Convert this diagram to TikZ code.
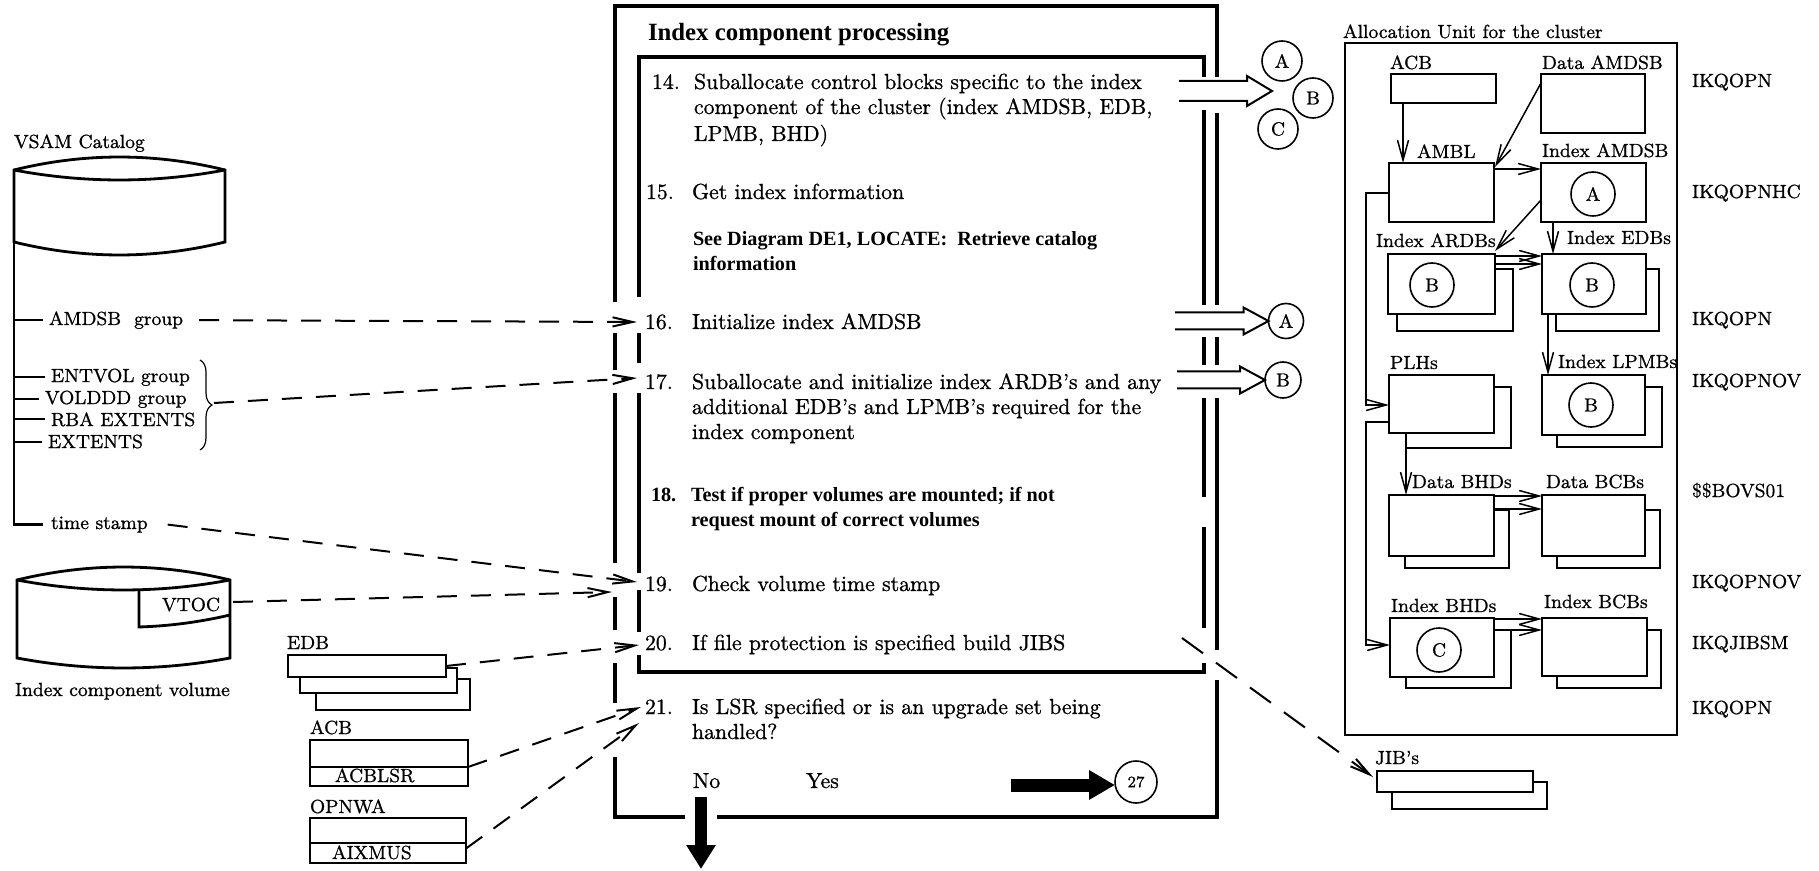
\documentclass[tikz,border=0pt]{standalone}
\usepackage{fontspec}
\newfontfamily\tmsfont{Liberation Serif}
\newfontfamily\heavyfont{Latin Modern Roman}[FakeBold=0.9, Ligatures=TeX]
\usetikzlibrary{arrows.meta,calc,fit,decorations.pathreplacing}

% shadow of a stacked block: #1 node, #2 left inset, #3 right overhang, #4 top drop, #5 bottom overhang
\newcommand\stackshadow[5]{%
  \draw[boxline] ($(#1.north east)+(0,#4)$) -| ($(#1.south east)+(#3,#5)$) -| ($(#1.south west)+(#2,0)$);}
% hollow block arrow: #1 start, #2 tip, #3 half shaft width
\newcommand\hollowarrow[3]{%
  \draw[line width=1pt, line join=miter]
    ($(#1)+(0,-#3)$) -- ($(#2)+(-25,-#3)$) -- ($(#2)+(-25,-#3-5)$) -- (#2)
    -- ($(#2)+(-25,#3+5)$) -- ($(#2)+(-25,#3)$) -- ($(#1)+(0,#3)$);}

\begin{document}
\begin{tikzpicture}[x=0.5pt,y=-0.5pt,
  every node/.style={inner sep=0pt, outer sep=0pt},
  frame/.style={line width=2pt},
  boxline/.style={line width=1.4pt},
  cyl/.style={line width=1.4pt},
  tick/.style={line width=1pt},
  blk/.style={draw, line width=1.4pt, fill=white},
  ring/.style={draw, circle, line width=0.8pt, font=\heavyfont\fontsize{9.5}{11}\selectfont},
  body/.style={anchor=base west, font=\heavyfont\fontsize{10.9}{13}\selectfont},
  bodyb/.style={anchor=base west, font=\tmsfont\bfseries\fontsize{10.1}{12}\selectfont},
  lab/.style={anchor=base west, font=\heavyfont\fontsize{9.5}{11}\selectfont},
  link/.style={line width=0.75pt, -{Straight Barb[length=10pt,width=5.5pt]}},
  dasharrow/.style={line width=1pt, dash pattern=on 10pt off 7pt,
    -{Straight Barb[length=10pt,width=4.6pt]}},
]
\useasboundingbox (0,0) rectangle (1819,871);

% ---------------- VSAM catalog ----------------
\node[lab] (vsamt) at (14,148) {VSAM Catalog};
\draw[cyl] (14,170) .. controls (84,152.7) and (155,152.7) .. (225,170) -- (225,242)
  .. controls (155,259.3) and (84,259.3) .. (14,242) -- cycle;
\draw[cyl] (14,170) .. controls (84,183.3) and (155,183.3) .. (225,170);
\coordinate (vsamleg) at (14,242);
\node[lab] (amdsbg) at (49,325) {AMDSB\ \ group};
\node[lab] (entvol) at (51,382) {ENTVOL group};
\node[lab] (volddd) at (45,404) {VOLDDD group};
\node[lab] (rba) at (51,426) {RBA EXTENTS};
\node[lab] (ext) at (48,448) {EXTENTS};
\node[lab] (tstamp) at (51,529) {time stamp};
\draw[cyl] (vsamleg) -- (vsamleg |- tstamp.west) -- ([xshift=-4pt]tstamp.west);
\foreach \n in {amdsbg,entvol,volddd,rba,ext}
  \draw[tick] (vsamleg |- \n.west) -- ([xshift=-3pt]\n.west);
\draw[line width=0.6pt, decorate, decoration={brace, amplitude=6pt}] (200,360) -- (200,450);
\coordinate (bracetip) at (214,403);

% ---------------- index component volume ----------------
\draw[cyl] (17,580) .. controls (88,562.7) and (159,562.7) .. (230,580) -- (230,658)
  .. controls (159,671.3) and (88,671.3) .. (17,658) -- cycle;
\draw[cyl] (17,580) .. controls (88,593.3) and (159,593.3) .. (230,580);
\draw[boxline] (139,590) -- (139,627) .. controls (170,626) and (200,622) .. (230,615);
\node[lab] (vtoc) at (162,611) {VTOC};
\coordinate (vtocout) at (233,602);
\node[lab] (icv) at (15,696) {Index component volume};

% ---------------- EDB / ACB / OPNWA ----------------
\node[lab] (ledb) at (287,649) {EDB};
\node[blk, fit={(288,655) (446,677)}] (edb1) {};
\stackshadow{edb1}{12}{11}{13}{16}
\node[fit={(300,668) (457,693)}] (edb2) {};
\stackshadow{edb2}{16}{13}{11}{17}

\node[lab] (lacbl) at (310,734) {ACB};
\node[blk, fit={(310,740) (468,786)}] (acbl) {};
\draw[boxline] ($(acbl.north west)+(0,27)$) -- ($(acbl.north east)+(0,27)$);
\node[lab] (acblsr) at (335,782) {ACBLSR};

\node[lab] (lopnwa) at (310,813) {OPNWA};
\node[blk, fit={(310,818) (466,863)}] (opnwa) {};
\draw[boxline] ($(opnwa.north west)+(0,25)$) -- ($(opnwa.north east)+(0,25)$);
\node[lab] (aixmus) at (332,859) {AIXMUS};

% ---------------- processing frame (outer) ----------------
\draw[frame] (615,302) -- (615,6) -- (1217,6) -- (1217,77);
\draw[frame] (615,333) -- (615,370);
\draw[frame] (615,393) -- (615,563);
\draw[frame] (615,597) -- (615,630);
\draw[frame] (615,663) -- (615,703);
\draw[frame] (615,757) -- (615,817) -- (685,817);
\draw[frame] (717,817) -- (1217,817) -- (1217,680);
\draw[frame] (1217,650) -- (1217,398);
\draw[frame] (1217,365) -- (1217,337);
\draw[frame] (1217,305) -- (1217,113);
% inner frame
\draw[frame] (639,297) -- (639,57) -- (1204,57) -- (1204,77);
\draw[frame] (639,333) -- (639,363);
\draw[frame] (639,393) -- (639,573);
\draw[frame] (639,590) -- (639,632);
\draw[frame] (639,655) -- (639,672) -- (1204,672) -- (1204,663);
\draw[frame] (1204,628) -- (1204,527);
\draw[frame] (1204,497) -- (1204,398);
\draw[frame] (1204,365) -- (1204,337);
\draw[frame] (1204,305) -- (1204,110);

\node[anchor=base west, font=\tmsfont\bfseries\fontsize{12.4}{14}\selectfont] (title) at (648,41) {Index component processing};

% steps
\node[body] (n14) at (652,89) {14.};
\node[body] (s14a) at (694,89) {Suballocate control blocks specific to the index};
\node[body] (s14b) at (694,114) {component of the cluster (index AMDSB, EDB,};
\node[body] (s14c) at (694,141) {LPMB, BHD)};
\node[body] (n15) at (646,199) {15.};
\node[body] (s15) at (692,199) {Get index information};
\node[bodyb] (s15a) at (693,246) {See Diagram DE1, LOCATE:\ \ Retrieve catalog};
\node[bodyb] (s15b) at (693,271) {information};
\node[body] (n16) at (645,329) {16.};
\node[body] (s16) at (692,329) {Initialize index AMDSB};
\node[body] (n17) at (645,389) {17.};
\node[body] (s17a) at (692,389) {Suballocate and initialize index ARDB’s and any};
\node[body] (s17b) at (692,414) {additional EDB’s and LPMB’s required for the};
\node[body] (s17c) at (692,439) {index component};
\node[bodyb] (n18) at (651,501) {18.};
\node[bodyb] (s18a) at (691,501) {Test if proper volumes are mounted; if not};
\node[bodyb] (s18b) at (691,526) {request mount of correct volumes};
\node[body] (n19) at (645,591) {19.};
\node[body] (s19) at (692,591) {Check volume time stamp};
\node[body] (n20) at (645,650) {20.};
\node[body] (s20) at (692,650) {If file protection is specified build JIBS};
\node[body] (n21) at (645,714) {21.};
\node[body] (s21a) at (692,714) {Is LSR specified or is an upgrade set being};
\node[body] (s21b) at (692,739) {handled?};
\node[body] (no) at (693,788) {No};
\node[body] (yes) at (806,788) {Yes};

% entry points on the frame
\coordinate (in16) at (637,322);
\coordinate (in17) at (637,378);
\coordinate (in19a) at (637,582);
\coordinate (in19b) at (612,592);
\coordinate (in20) at (639,645);
\coordinate (in21a) at (641,707);
\coordinate (in21b) at (639,723);

% data flowing in
\draw[dasharrow] ([xshift=8pt]amdsbg.east) -- (in16);
\draw[dasharrow] (bracetip) -- (in17);
\draw[dasharrow] ([xshift=10pt]tstamp.east) -- (in19a);
\draw[dasharrow] (vtocout) -- (in19b);
\draw[dasharrow] (edb1.east) -- (in20);
\draw[dasharrow] ([yshift=-2pt]acbl.east) -- (in21a);
\draw[dasharrow] ([yshift=-4pt]opnwa.east) -- (in21b);

% outputs to the allocation unit
\node[ring, minimum size=20pt] (c14a) at (1282,61) {A};
\node[ring, minimum size=20pt] (c14b) at (1313,98) {B};
\node[ring, minimum size=20pt] (c14c) at (1278,129) {C};
\coordinate (o14) at (1179,91);
\coordinate (t14) at (1272,91);
\hollowarrow{o14}{t14}{10}
\node[ring, minimum size=17.5pt] (c16) at (1286,321) {A};
\coordinate (o16) at (1175,321);
\hollowarrow{o16}{c16.west}{8.5}
\node[ring, minimum size=18pt] (c17) at (1283,380) {B};
\coordinate (o17) at (1177,380);
\hollowarrow{o17}{c17.west}{8.5}

% exits
\node[ring, minimum size=21pt, font=\heavyfont\fontsize{8}{9}\selectfont] (c27) at (1136,782) {27};
\coordinate (yesout) at (1011,785);
\draw[line width=6.5pt, -{Triangle[length=13pt,width=14pt]}] (yesout) -- (c27.west |- yesout);
\coordinate (noout) at (701,797);
\coordinate (exitdown) at (701,869);
\draw[line width=6pt, -{Triangle[length=12pt,width=14pt]}] (noout) -- (exitdown);

% ---------------- allocation unit ----------------
\node[lab] (lalloc) at (1343,38) {Allocation Unit for the cluster};
\node[draw, line width=1.4pt, fit={(1345,43) (1677,735)}] (alloc) {};

\node[lab] at (1390,69) {ACB};
\node[blk, fit={(1391,74) (1496,103)}] (acb) {};
\node[lab] at (1542,69) {Data AMDSB};
\node[blk, fit={(1541,74) (1645,133)}] (dam) {};
\node[lab] at (1417,158) {AMBL};
\node[blk, fit={(1389,163) (1494,222)}] (ambl) {};
\node[lab] at (1542,157) {Index AMDSB};
\node[blk, fit={(1541,163) (1646,222)}] (iam) {};
\node[lab] at (1376,247) {Index ARDBs};
\node[lab] at (1567,244) {Index EDBs};
\node[lab] at (1390,369) {PLHs};
\node[lab] at (1558,368) {Index LPMBs};
\node[lab] at (1412,488) {Data BHDs};
\node[lab] at (1546,488) {Data BCBs};
\node[lab] at (1391,612) {Index BHDs};
\node[lab] at (1544,608) {Index BCBs};
\node[lab] at (1375,764) {JIB’s};

\node[blk, fit={(1388,254) (1495,314)}] (ardb) {};
\node[blk, fit={(1542,254) (1646,314)}] (edbs) {};
\node[blk, fit={(1389,375) (1494,433)}] (plh) {};
\node[blk, fit={(1542,375) (1645,435)}] (lpmb) {};
\node[blk, fit={(1389,495) (1494,556)}] (dbhd) {};
\node[blk, fit={(1542,495) (1645,556)}] (dbcb) {};
\node[blk, fit={(1390,618) (1494,677)}] (ibhd) {};
\node[blk, fit={(1542,618) (1647,676)}] (ibcb) {};
\node[blk, fit={(1377,771) (1533,792)}] (jib) {};
\stackshadow{ardb}{9}{18}{15}{17}
\stackshadow{edbs}{14}{13}{15}{17}
\stackshadow{plh}{17}{17}{12}{15}
\stackshadow{lpmb}{15}{17}{12}{12}
\stackshadow{dbhd}{16}{15}{15}{12}
\stackshadow{dbcb}{15}{15}{15}{12}
\stackshadow{ibhd}{16}{17}{12}{11}
\stackshadow{ibcb}{15}{14}{12}{12}
\stackshadow{jib}{15}{14}{11}{17}

\node[ring, minimum size=22pt] (ciam) at (1593,194) {A};
\node[ring, minimum size=22pt] (cardb) at (1432,285) {B};
\node[ring, minimum size=22pt] (cedbs) at (1592,285) {B};
\node[ring, minimum size=22pt] (clpmb) at (1591,405) {B};
\node[ring, minimum size=22pt] (cibhd) at (1439,650) {C};

\coordinate (p1) at ($(acb.south west)+(12,0)$);
\draw[link] (p1) -- (p1 |- ambl.north);
\draw[link] ($(dam.north west)+(0,9)$) -- ($(ambl.north east)+(1,4)$);
\draw[link] ($(ambl.north east)+(0,6)$) -- ($(iam.north west)+(0,6)$);
\draw[link] ($(iam.south west)+(0,-22)$) -- ($(ardb.north east)+(0,-3)$);
\coordinate (p2) at ($(iam.south west)+(12,0)$);
\draw[link] (p2) -- (p2 |- edbs.north);
\draw[link] ($(ardb.north east)+(0,2)$) -- ($(edbs.north west)+(0,2)$);
\draw[link] ($(ardb.north east)+(0,10)$) -- ($(edbs.north west)+(0,10)$);
\coordinate (p3) at ($(edbs.south west)+(6,0)$);
\draw[link] (p3) -- (p3 |- lpmb.north);
\draw[link] ($(ambl.south west)+(0,-29)$) -- ++(-23,0) |- ($(plh.north west)+(0,30)$);
\draw[link] ($(plh.south west)+(0,-11)$) -- ++(-23,0) |- ($(ibhd.north west)+(0,27)$);
\coordinate (p4) at ($(plh.south west)+(17,0)$);
\draw[link] (p4) -- (p4 |- dbhd.north);
\draw[link] ($(dbhd.north east)+(0,1)$) -- ($(dbcb.north west)+(0,1)$);
\draw[link] ($(dbhd.north east)+(0,14)$) -- ($(dbcb.north west)+(0,14)$);
\draw[link] ($(ibhd.north east)+(0,1)$) -- ($(ibcb.north west)+(0,1)$);
\draw[link] ($(ibhd.north east)+(0,12)$) -- ($(ibcb.north west)+(0,12)$);

% module names
\node[lab] (m1) at (1692,87) {IKQOPN};
\node[lab] (m2) at (1692,198) {IKQOPNHC};
\node[lab] (m3) at (1692,325) {IKQOPN};
\node[lab] (m4) at (1692,387) {IKQOPNOV};
\node[lab] (m5) at (1692,497) {\$\$BOVS01};
\node[lab] (m6) at (1692,588) {IKQOPNOV};
\node[lab] (m7) at (1692,649) {IKQJIBSM};
\node[lab] (m8) at (1692,714) {IKQOPN};

% step 20 builds the JIBs
\coordinate (o20) at (1182,638);
\draw[dasharrow, dash pattern=on 13pt off 8pt] (o20) -- ([xshift=-2pt,yshift=-3pt]jib.north west);
\end{tikzpicture}
\end{document}
